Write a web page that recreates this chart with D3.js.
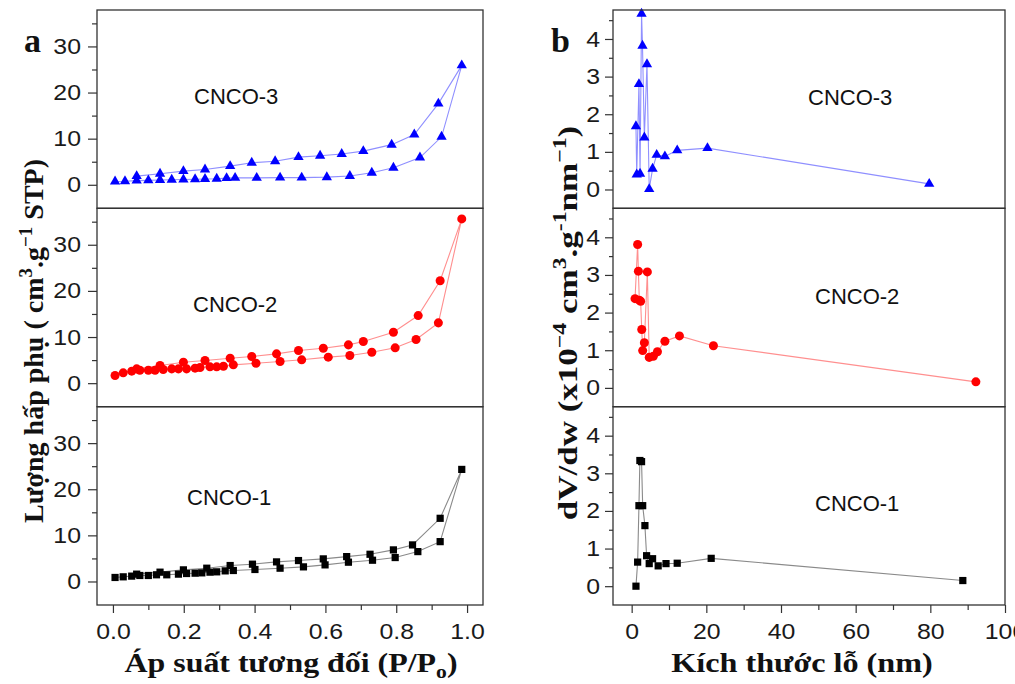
<!DOCTYPE html>
<html>
<head>
<meta charset="utf-8">
<script src="https://cdn.jsdelivr.net/npm/d3@7"></script>
<style>
  body { margin: 0; background: #fff; }
  svg { display: block; }
</style>
</head>
<body>
<svg id="chart" width="1015" height="684"></svg>
<script>
// ---- N2 adsorption/desorption isotherms (relative pressure P/Po, volume cm3/g STP) ----
const iso3AdsP = [0.006, 0.034, 0.067, 0.100, 0.133, 0.166, 0.199, 0.232, 0.260, 0.293, 0.321, 0.345, 0.406, 0.472, 0.533, 0.604, 0.669, 0.731, 0.792, 0.867, 0.928, 0.985];
const iso3AdsV = [0.7, 0.75, 0.9, 0.95, 1.05, 1.1, 1.15, 1.2, 1.25, 1.3, 1.45, 1.5, 1.5, 1.55, 1.55, 1.65, 1.9, 2.6, 3.7, 5.9, 10.4, 25.9];
const iso3DesP = [0.985, 0.919, 0.851, 0.787, 0.707, 0.646, 0.585, 0.524, 0.458, 0.392, 0.331, 0.260, 0.199, 0.133, 0.067];
const iso3DesV = [25.9, 17.6, 10.9, 8.7, 7.3, 6.66, 6.3, 6.0, 5.1, 4.78, 4.05, 3.3, 2.97, 2.4, 1.88];

const iso2AdsP = [0.006, 0.029, 0.053, 0.076, 0.100, 0.119, 0.142, 0.166, 0.185, 0.208, 0.232, 0.246, 0.274, 0.293, 0.312, 0.340, 0.404, 0.472, 0.533, 0.608, 0.669, 0.731, 0.797, 0.856, 0.919, 0.985];
const iso2AdsV = [1.67, 2.24, 2.6, 2.8, 2.8, 2.8, 2.96, 3.1, 3.1, 3.1, 3.25, 3.4, 3.54, 3.54, 3.68, 3.97, 4.33, 4.7, 5.06, 5.64, 6.0, 6.7, 7.66, 9.46, 13.07, 35.6];
const iso2DesP = [0.985, 0.924, 0.862, 0.792, 0.707, 0.665, 0.594, 0.524, 0.462, 0.392, 0.331, 0.260, 0.199, 0.133, 0.067];
const iso2DesV = [35.6, 22.2, 14.65, 11.04, 9.03, 8.3, 7.58, 7.07, 6.35, 5.78, 5.41, 4.91, 4.55, 3.83, 3.1];

const iso1AdsP = [0.006, 0.029, 0.053, 0.076, 0.100, 0.123, 0.152, 0.185, 0.208, 0.232, 0.251, 0.274, 0.293, 0.317, 0.340, 0.401, 0.472, 0.538, 0.599, 0.665, 0.733, 0.797, 0.861, 0.924, 0.985];
const iso1AdsV = [0.87, 1.01, 1.16, 1.3, 1.3, 1.45, 1.45, 1.59, 1.73, 1.8, 1.87, 2.02, 2.09, 2.3, 2.38, 2.6, 2.88, 3.17, 3.6, 4.18, 4.61, 5.19, 6.48, 8.64, 24.3];
const iso1DesP = [0.985, 0.924, 0.846, 0.792, 0.726, 0.660, 0.594, 0.524, 0.462, 0.394, 0.331, 0.265, 0.199, 0.133, 0.067];
const iso1DesV = [24.3, 13.7, 7.93, 6.85, 5.9, 5.4, 4.9, 4.54, 4.25, 3.75, 3.46, 2.88, 2.52, 2.02, 1.59];

// ---- Pore size distributions (pore width nm, dV/dw x1e-4) ----
const pore3D = [1.15, 1.35, 1.95, 2.25, 2.65, 2.9, 3.4, 4.1, 4.7, 5.6, 6.7, 8.9, 12.2, 20.3, 79.7];
const pore3V = [1.68, 0.4, 2.8, 0.42, 4.67, 3.82, 1.38, 3.33, 0.01, 0.55, 0.92, 0.88, 1.04, 1.1, 0.15];

const pore2D = [0.9, 1.6, 1.8, 2.05, 2.4, 2.7, 2.95, 3.4, 4.2, 4.7, 5.8, 6.9, 8.9, 12.8, 21.9, 92.2];
const pore2V = [2.37, 3.81, 3.1, 2.33, 2.3, 1.55, 0.99, 1.2, 3.08, 0.81, 0.84, 0.96, 1.24, 1.38, 1.12, 0.16];

const pore1D = [1.15, 1.6, 1.95, 2.2, 2.65, 2.95, 3.55, 4.0, 4.7, 5.6, 7.1, 9.2, 12.2, 21.3, 88.7];
const pore1V = [0.0, 0.64, 2.14, 3.34, 3.31, 2.14, 1.61, 0.81, 0.6, 0.73, 0.54, 0.6, 0.61, 0.74, 0.15];

// ---- Tick values ----
const pressureTicks = [0, 0.2, 0.4, 0.6, 0.8, 1.0];
const pressureMinor = [0.1, 0.3, 0.5, 0.7, 0.9];
const volumeTicks = [0, 10, 20, 30];
const volumeMinor = [5, 15, 25, 35];
const widthTicks = [0, 20, 40, 60, 80, 100];
const widthMinor = [10, 30, 50, 70, 90];
const dvTicks = [0, 1, 2, 3, 4];
const dvMinor = [0.5, 1.5, 2.5, 3.5, 4.5];

const sampleNames = ["CNCO-3", "CNCO-2", "CNCO-1"];

// ---- Layout ----
const svg = d3.select("#chart");
const rowEdges = [10, 208.3, 406.7, 605];
const xP = d3.scaleLinear().domain([-0.045, 1.045]).range([97, 483]);
const xD = d3.scaleLinear().domain([-5, 100]).range([613, 1005]);

const tickFont = "'Liberation Sans', Arial, sans-serif";
const titleFont = "'Liberation Serif', 'Times New Roman', serif";

const rows = [
  { name: sampleNames[0], marker: d3.symbolTriangle, size: 46, fill: "#0000ff", line: "#8f8fff",
    iso: [iso3AdsP, iso3AdsV, iso3DesP, iso3DesV], pore: [pore3D, pore3V],
    isoLabel: [194, 103.5], poreLabel: [808, 105] },
  { name: sampleNames[1], marker: d3.symbolCircle, size: 64, fill: "#ff0000", line: "#ff8f8f",
    iso: [iso2AdsP, iso2AdsV, iso2DesP, iso2DesV], pore: [pore2D, pore2V],
    isoLabel: [193, 312], poreLabel: [815, 304] },
  { name: sampleNames[2], marker: d3.symbolSquare, size: 52, fill: "#000000", line: "#8a8a8a",
    iso: [iso1AdsP, iso1AdsV, iso1DesP, iso1DesV], pore: [pore1D, pore1V],
    isoLabel: [187, 505], poreLabel: [815, 511] }
];

// Tick labels are set slightly wide, as in the original figure export
function styleTicks(g, size) {
  g.select(".domain").remove();
  g.selectAll(".tick line").attr("stroke", "#333").attr("stroke-width", 1.2);
  g.selectAll(".tick text")
    .attr("fill", "#1a1a1a")
    .style("font-family", tickFont)
    .style("font-size", size + "px")
    .each(function () {
      const w = this.getComputedTextLength();
      if (w > 0) {
        d3.select(this).attr("textLength", w * 1.13).attr("lengthAdjust", "spacingAndGlyphs");
      }
    });
}

rows.forEach((row, i) => {
  const top = rowEdges[i], bottom = rowEdges[i + 1];
  const yV = d3.scaleLinear().domain([-5.1, 37.9]).range([bottom, top]);
  const yW = d3.scaleLinear().domain([-0.5, 4.77]).range([bottom, top]);

  // --- isotherm panel ---
  const gl = svg.append("g");
  gl.append("g").attr("transform", `translate(${xP.range()[0]},0)`)
    .call(d3.axisLeft(yV).tickValues(volumeTicks).tickSize(9).tickPadding(7).tickFormat(d3.format("d")))
    .call(g => styleTicks(g, 22));
  gl.append("g").attr("transform", `translate(${xP.range()[0]},0)`)
    .call(d3.axisLeft(yV).tickValues(volumeMinor).tickSize(5).tickFormat(""))
    .call(g => styleTicks(g, 22));

  const ads = row.iso[0].map((p, k) => [p, row.iso[1][k]]);
  const des = row.iso[2].map((p, k) => [p, row.iso[3][k]]);
  const isoLine = d3.line().x(d => xP(d[0])).y(d => yV(d[1]));
  gl.append("path").attr("d", isoLine(ads.concat(des)))
    .attr("fill", "none").attr("stroke", row.line).attr("stroke-width", 1.1);
  gl.selectAll("path.pt").data(ads.concat(des.slice(1))).join("path")
    .attr("class", "pt")
    .attr("transform", d => `translate(${xP(d[0])},${yV(d[1])})`)
    .attr("d", d3.symbol().type(row.marker).size(row.size))
    .attr("fill", row.fill);

  gl.append("rect")
    .attr("x", xP.range()[0]).attr("y", top)
    .attr("width", xP.range()[1] - xP.range()[0]).attr("height", bottom - top)
    .attr("fill", "none").attr("stroke", "#333").attr("stroke-width", 1.3);

  gl.append("text").attr("x", row.isoLabel[0]).attr("y", row.isoLabel[1])
    .style("font-family", tickFont).style("font-size", "22px").attr("fill", "#111")
    .text(row.name);

  // --- pore size panel ---
  const gr = svg.append("g");
  gr.append("g").attr("transform", `translate(${xD.range()[0]},0)`)
    .call(d3.axisLeft(yW).tickValues(dvTicks).tickSize(8).tickPadding(5).tickFormat(d3.format("d")))
    .call(g => styleTicks(g, 22));
  gr.append("g").attr("transform", `translate(${xD.range()[0]},0)`)
    .call(d3.axisLeft(yW).tickValues(dvMinor).tickSize(4).tickFormat(""))
    .call(g => styleTicks(g, 22));

  const psd = row.pore[0].map((d, k) => [d, row.pore[1][k]]);
  const psdLine = d3.line().x(d => xD(d[0])).y(d => yW(d[1]));
  gr.append("path").attr("d", psdLine(psd))
    .attr("fill", "none").attr("stroke", row.line).attr("stroke-width", 1.1);
  gr.selectAll("path.pt").data(psd).join("path")
    .attr("class", "pt")
    .attr("transform", d => `translate(${xD(d[0])},${yW(d[1])})`)
    .attr("d", d3.symbol().type(row.marker).size(row.size))
    .attr("fill", row.fill);

  gr.append("rect")
    .attr("x", xD.range()[0]).attr("y", top)
    .attr("width", xD.range()[1] - xD.range()[0]).attr("height", bottom - top)
    .attr("fill", "none").attr("stroke", "#333").attr("stroke-width", 1.3);

  gr.append("text").attr("x", row.poreLabel[0]).attr("y", row.poreLabel[1])
    .style("font-family", tickFont).style("font-size", "22px").attr("fill", "#111")
    .text(row.name);
});

// ---- Bottom axes ----
const base = rowEdges[3];
svg.append("g").attr("transform", `translate(0,${base})`)
  .call(d3.axisBottom(xP).tickValues(pressureTicks).tickSize(8).tickPadding(10).tickFormat(d3.format(".1f")))
  .call(g => styleTicks(g, 22));
svg.append("g").attr("transform", `translate(0,${base})`)
  .call(d3.axisBottom(xP).tickValues(pressureMinor).tickSize(5).tickFormat(""))
  .call(g => styleTicks(g, 22));
svg.append("g").attr("transform", `translate(0,${base})`)
  .call(d3.axisBottom(xD).tickValues(widthTicks).tickSize(8).tickPadding(10).tickFormat(d3.format("d")))
  .call(g => styleTicks(g, 22));
svg.append("g").attr("transform", `translate(0,${base})`)
  .call(d3.axisBottom(xD).tickValues(widthMinor).tickSize(5).tickFormat(""))
  .call(g => styleTicks(g, 22));

// ---- Axis titles ----
function title(el) {
  return el.style("font-family", titleFont).style("font-size", "28px")
    .style("font-weight", "bold").attr("fill", "#111");
}

const tx1 = title(svg.append("text"))
  .attr("transform", "translate(291,672) scale(1.14,1)").attr("text-anchor", "middle");
tx1.append("tspan").text("Áp suất tương đối (P/P");
tx1.append("tspan").text("o").attr("dy", 6).style("font-size", "19px");
tx1.append("tspan").text(")").attr("dy", -6);

const tx2 = title(svg.append("text"))
  .attr("transform", "translate(802,672) scale(1.15,1)").attr("text-anchor", "middle");
tx2.text("Kích thước lỗ (nm)");

const ty1 = title(svg.append("text"))
  .attr("transform", "translate(43,341) rotate(-90)").attr("text-anchor", "middle");
ty1.append("tspan").text("Lượng hấp phụ ( cm");
ty1.append("tspan").text("3").attr("dy", -11).style("font-size", "19px");
ty1.append("tspan").text(".g").attr("dy", 11);
ty1.append("tspan").text("−1").attr("dy", -11).style("font-size", "19px");
ty1.append("tspan").text(" STP)").attr("dy", 11);

const ty2 = title(svg.append("text"))
  .attr("transform", "translate(577,323) rotate(-90) scale(1.25,1)").attr("text-anchor", "middle");
ty2.append("tspan").text("dV/dw (x10");
ty2.append("tspan").text("−4").attr("dy", -11).style("font-size", "19px");
ty2.append("tspan").text(" cm").attr("dy", 11);
ty2.append("tspan").text("3").attr("dy", -11).style("font-size", "19px");
ty2.append("tspan").text(".g").attr("dy", 11);
ty2.append("tspan").text("-1").attr("dy", -11).style("font-size", "19px");
ty2.append("tspan").text("nm").attr("dy", 11);
ty2.append("tspan").text("−1").attr("dy", -11).style("font-size", "19px");
ty2.append("tspan").text(")").attr("dy", 11);

// ---- Panel letters ----
title(svg.append("text")).attr("x", 24).attr("y", 52).style("font-size", "34px").text("a");
title(svg.append("text")).attr("x", 551).attr("y", 52).style("font-size", "34px").text("b");
</script>
</body>
</html>
